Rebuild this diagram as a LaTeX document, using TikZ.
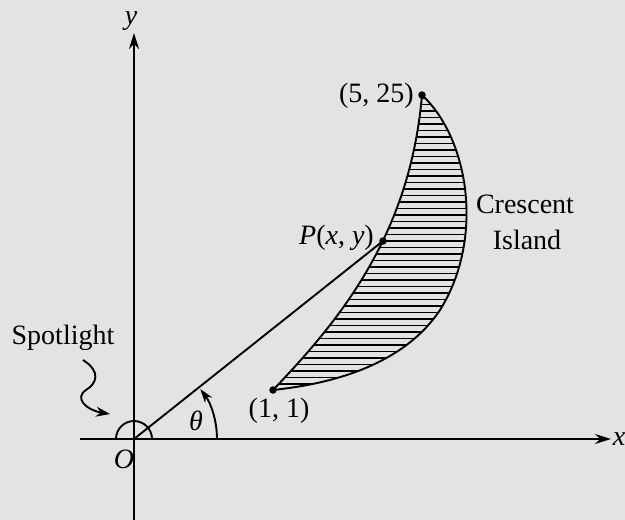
\documentclass[tikz,border=0pt]{standalone}
\usepackage{fontspec}
\setmainfont{Liberation Serif}
\usetikzlibrary{arrows.meta}
\begin{document}
\begin{tikzpicture}[x=1pt,y=-1pt,
  lbl/.style={font=\fontsize{28}{30}\selectfont, inner sep=0pt},
  dotpt/.style={circle, fill=black, inner sep=0pt, minimum size=7.5pt},
  axis/.style={line width=2pt, -{Stealth[length=16pt,width=10pt]}},
  thin/.style={line width=1.9pt}]
\fill[black!11] (0,0) rectangle (625,520);
\useasboundingbox (0,0) rectangle (625,520);
% points
\coordinate (O) at (134,439);
\coordinate (xs) at (80,439);
\coordinate (xe) at (611,439);
\coordinate (ys) at (134,520);
\coordinate (ye) at (134,33);
\node[dotpt] (A) at (273,390) {};
\node[dotpt] (B) at (422,95) {};
\node[dotpt] (P) at (383,241) {};
% crescent hatching
\def\cres{(273,390) .. controls (340,320) and (410,235) .. (422,95)
  .. controls (470,140) and (484,240) .. (440,310)
  .. controls (400,370) and (320,385) .. (273,390) -- cycle}
\begin{scope}
\clip \cres;
\foreach \yy in {98,104.5,...,400} \draw[line width=1.2pt] (260,\yy) -- (480,\yy);
\end{scope}
\draw[thin] \cres;
% axes
\draw[axis] (xs) -- (xe);
\draw[axis] (ys) -- (ye);
% ray
\draw[thin] (O) -- (P.center);
% semicircle at O
\draw[thin] ([xshift=18pt]O) arc[start angle=0, end angle=180, radius=18pt];
% theta arc
\draw[thin, -{Stealth[length=14pt,width=9pt]}] ([xshift=83pt]O) arc[start angle=0, end angle=37, radius=83pt];
% spotlight squiggle
\coordinate (s0) at (83,360);
\coordinate (s1) at (110,414);
\draw[thin, -{Stealth[length=14pt,width=10pt]}] (s0) .. controls (102,372) and (96,384) .. (86,390)
  .. controls (74,398) and (86,410) .. (s1);
% labels
\node[lbl] (ylab) at (131,21) {\itshape y};
\node[lbl] (xlab) at (619,439) {\itshape x};
\node[lbl] (Olab) at (124,459) {\itshape O};
\node[lbl] (th) at (196,421) {\itshape θ};
\node[lbl] (spot) at (63,338) {Spotlight};
\node[lbl, anchor=east] (Blab) at (414,96) {(5, 25)};
\node[lbl] (Alab) at (279,411) {(1, 1)};
\node[lbl, anchor=east] (Plab) at (374,238) {\itshape P\/\upshape(\itshape x\/\upshape, \itshape y\/\upshape)};
\node[lbl] (cr) at (525,204) {Crescent};
\node[lbl] (isl) at (527,240) {Island};
\end{tikzpicture}
\end{document}
